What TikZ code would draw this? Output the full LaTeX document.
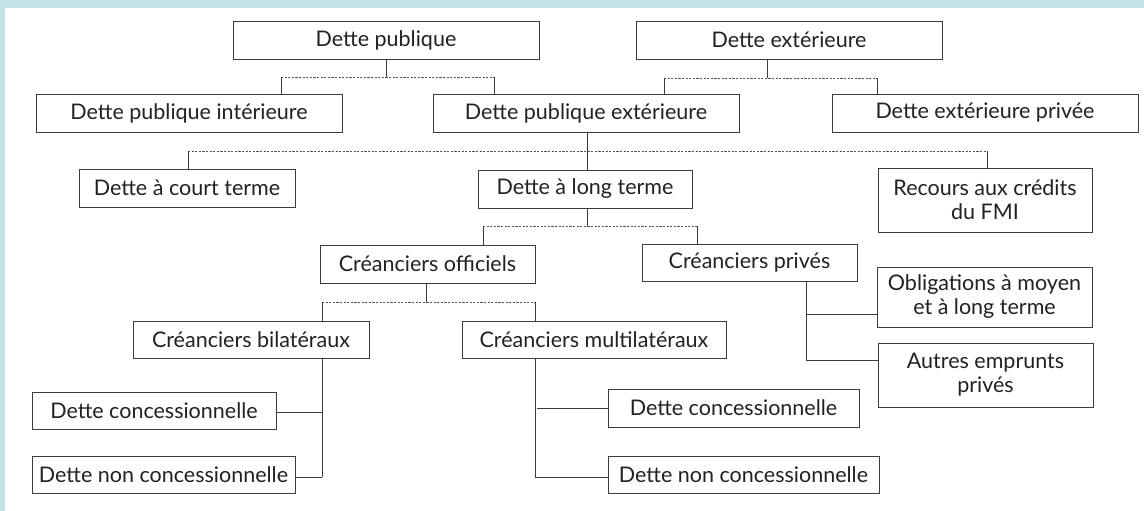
\documentclass[tikz,border=0pt]{standalone}
\usepackage{fontspec}
\setmainfont{Lato}
\definecolor{bgblue}{HTML}{C5E3E6}
\definecolor{boxc}{HTML}{3C3C3C}
\definecolor{txt}{HTML}{222222}
\definecolor{dashc}{HTML}{555555}
\begin{document}
\begin{tikzpicture}[x=1pt,y=-1pt,
  box/.style={draw=boxc, line width=0.9pt, fill=white, text=txt, inner sep=0pt, align=center, font=\fontsize{21.5}{24}\selectfont},
  ln/.style={draw=boxc, line width=0.9pt},
  dsh/.style={draw=dashc, line width=0.9pt, dash pattern=on 2.2pt off 1.4pt}]
\fill[bgblue] (0,0) rectangle (1144,511);
\fill[white] (5,8) rectangle (1144,511);
\useasboundingbox (0,0) rectangle (1144,511);
% nodes
\node[box, minimum width=306pt, minimum height=38pt] (pub) at (386,40) {Dette publique};
\node[box, minimum width=306pt, minimum height=38pt] (ext) at (789,40) {Dette extérieure};
\node[box, minimum width=306pt, minimum height=38pt] (pubint) at (189,113) {Dette publique intérieure};
\node[box, minimum width=306pt, minimum height=38pt] (pubext) at (586,113) {Dette publique extérieure};
\node[box, minimum width=306pt, minimum height=38pt] (extpriv) at (985,113) {Dette extérieure privée};
\node[box, minimum width=216pt, minimum height=38pt] (court) at (187,188) {Dette à court terme};
\node[box, minimum width=214pt, minimum height=38pt] (long) at (585,189) {Dette à long terme};
\node[box, minimum width=214pt, minimum height=64pt] (fmi) at (985,200) {Recours aux crédits\\du FMI};
\node[box, minimum width=215pt, minimum height=38pt] (off) at (427.5,264) {Créanciers officiels};
\node[box, minimum width=215pt, minimum height=37pt] (priv) at (749.5,262.5) {Créanciers privés};
\node[box, minimum width=236pt, minimum height=37pt] (bil) at (251,339.5) {Créanciers bilatéraux};
\node[box, minimum width=264pt, minimum height=37pt] (multi) at (594,339.5) {Créanciers multilatéraux};
\node[box, minimum width=215pt, minimum height=60pt] (obl) at (984.5,297) {Obligations à moyen\\et à long terme};
\node[box, minimum width=215pt, minimum height=64pt] (autres) at (985.5,375) {Autres emprunts\\privés};
\node[box, minimum width=244pt, minimum height=37pt] (dc1) at (154,410.5) {Dette concessionnelle};
\node[box, minimum width=263pt, minimum height=37pt] (dnc1) at (163.5,474.5) {Dette non concessionnelle};
\node[box, minimum width=251pt, minimum height=38pt] (dc2) at (733.5,408) {Dette concessionnelle};
\node[box, minimum width=271pt, minimum height=37pt] (dnc2) at (743.5,474.5) {Dette non concessionnelle};
% level 1
\coordinate (a1) at (281,77); \coordinate (a2) at (494,77);
\draw[dsh] (a1) -- (a2);
\draw[ln] (pub.south) -- (pub.south |- a1);
\draw[ln] (a1) -- (a1 |- pubint.north);
\draw[ln] (a2) -- (a2 |- pubext.north);
\coordinate (b1) at (664,78); \coordinate (b2) at (877,78); \coordinate (bm) at (767,78);
\draw[dsh] (b1) -- (b2);
\draw[ln] (bm |- ext.south) -- (bm);
\draw[ln] (b1) -- (b1 |- pubext.north);
\draw[ln] (b2) -- (b2 |- extpriv.north);
% level 2
\coordinate (c1) at (188,151); \coordinate (c2) at (987,151); \coordinate (cm) at (587,151);
\draw[dsh] (c1) -- (c2);
\draw[ln] (cm |- pubext.south) -- (cm |- long.north);
\draw[ln] (c1) -- (c1 |- court.north);
\draw[ln] (c2) -- (c2 |- fmi.north);
% level 3
\coordinate (d1) at (483,226); \coordinate (d2) at (697,226); \coordinate (dm) at (587,226);
\draw[dsh] (d1) -- (d2);
\draw[ln] (dm |- long.south) -- (dm);
\draw[ln] (d1) -- (d1 |- off.north);
\draw[ln] (d2) -- (d2 |- priv.north);
% level 4
\coordinate (e1) at (322,302); \coordinate (e2) at (535,302); \coordinate (em) at (426,302);
\draw[dsh] (e1) -- (e2);
\draw[ln] (em |- off.south) -- (em);
\draw[ln] (e1) -- (e1 |- bil.north);
\draw[ln] (e2) -- (e2 |- multi.north);
% bilateral
\coordinate (f0) at (322,358); \coordinate (f1) at (322,412); \coordinate (f2) at (322,477);
\draw[ln] (f0 |- bil.south) -- (f2);
\draw[ln] (f1) -- (f1 -| dc1.east);
\draw[ln] (f2) -- (f2 -| dnc1.east);
% multilateral
\coordinate (g1) at (537,408); \coordinate (g2) at (535,477);
\draw[ln] (g2 |- multi.south) -- (g2);
\draw[ln] (g1) -- (g1 -| dc2.west);
\draw[ln] (g2) -- (g2 -| dnc2.west);
% private
\coordinate (h1) at (806,314); \coordinate (h2) at (806,360);
\draw[ln] (h1 |- priv.south) -- (h2);
\draw[ln] (h1) -- (h1 -| obl.west);
\draw[ln] (h2) -- (h2 -| autres.west);
\end{tikzpicture}
\end{document}
